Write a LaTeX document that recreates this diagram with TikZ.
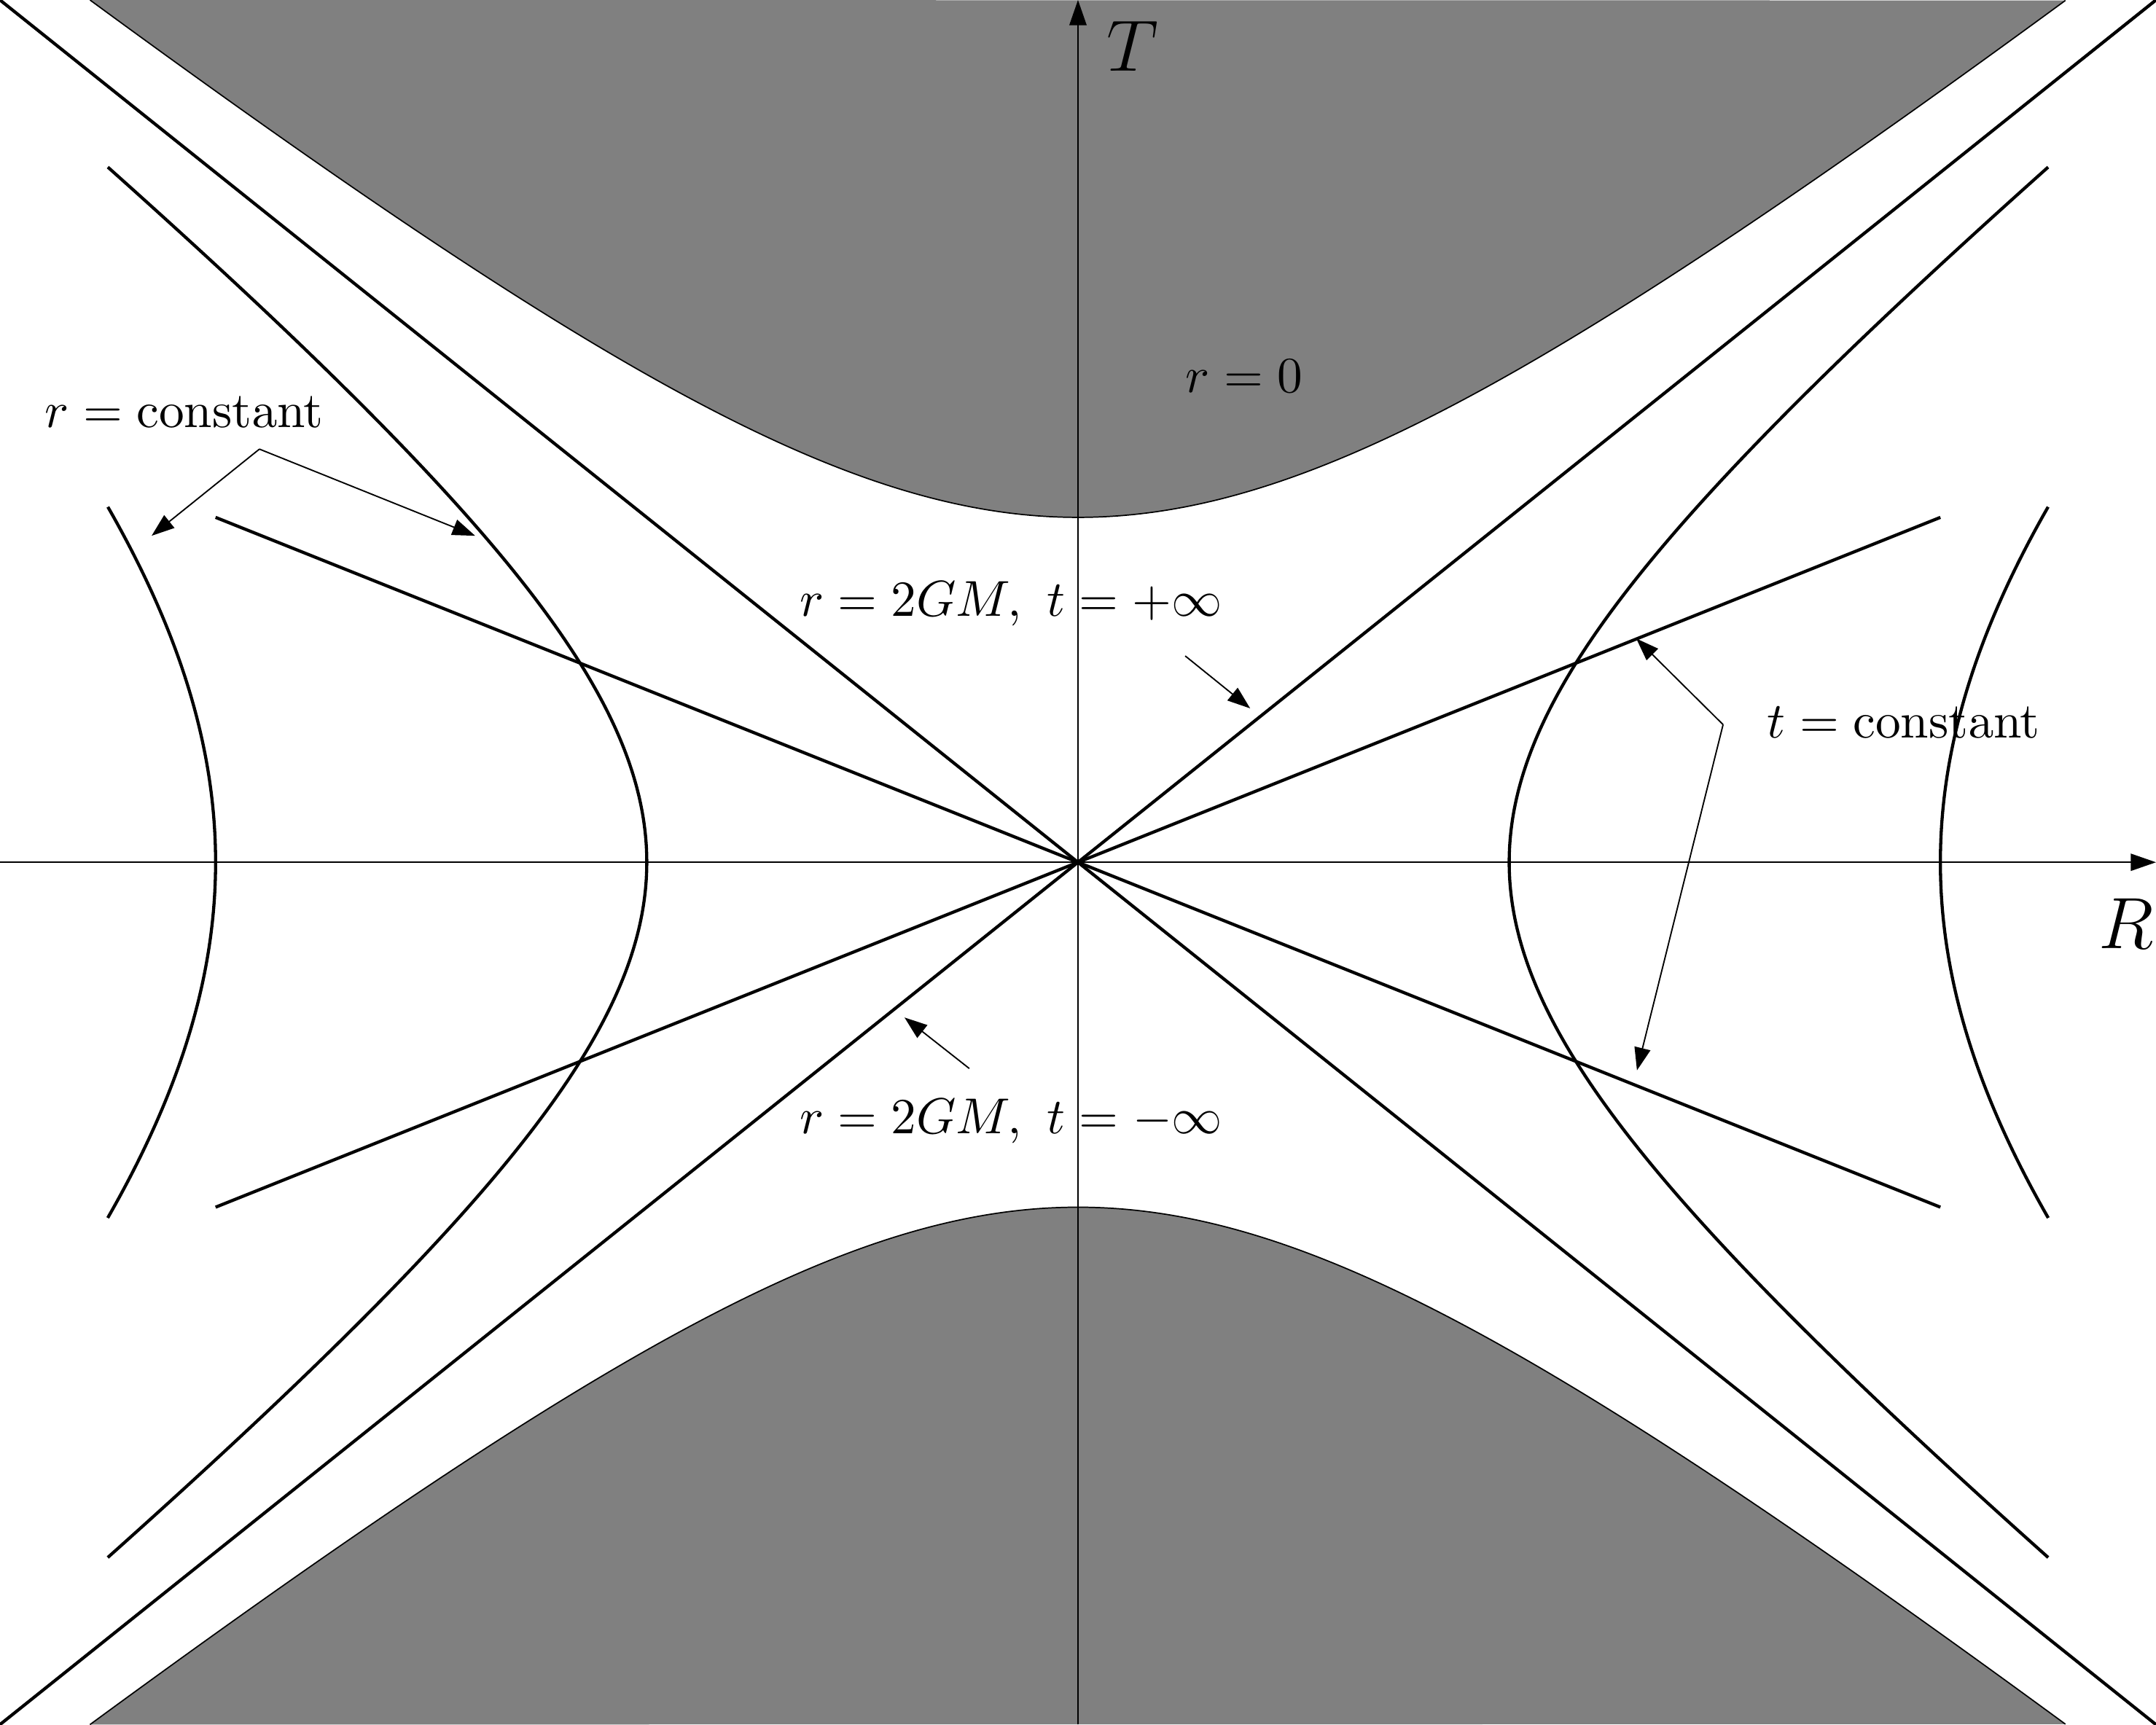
\documentclass[tikz,border=0pt]{standalone}
\usetikzlibrary{arrows.meta}
\begin{document}
\begin{tikzpicture}[x=3cm,y=2.4cm,
  curve/.style={line width=0.62pt, line join=round},
  thinline/.style={line width=0.25pt},
  axisarrow/.style={line width=0.25pt, -{Triangle[length=5pt,width=3.4pt]}},
  labarrow/.style={line width=0.27pt, -{Triangle[length=4.5pt,width=3.2pt]}},
  lab/.style={anchor=base west, inner sep=0pt, outer sep=0pt}]
\useasboundingbox (-2.5,-2.5) rectangle (2.5,2.5);
% singularities r = 0
\fill[gray] plot[domain=-2.2913:2.2913, samples=120, smooth] (\x,{sqrt(1+\x*\x)}) -- cycle;
\fill[gray] plot[domain=-2.2913:2.2913, samples=120, smooth] (\x,{-sqrt(1+\x*\x)}) -- cycle;
\draw[thinline] plot[domain=-2.2913:2.2913, samples=120, smooth] (\x,{sqrt(1+\x*\x)});
\draw[thinline] plot[domain=-2.2913:2.2913, samples=120, smooth] (\x,{-sqrt(1+\x*\x)});
% axes
\coordinate (Rl) at (-2.5,0);
\coordinate (Rr) at (2.5,0);
\coordinate (Tb) at (0,-2.5);
\coordinate (Tt) at (0,2.5);
\draw[axisarrow] (Rl) -- (Rr);
\draw[axisarrow] (Tb) -- (Tt);
% horizons
\coordinate (H1a) at (-2.5,-2.5);
\coordinate (H1b) at (2.5,2.5);
\coordinate (H2a) at (-2.5,2.5);
\coordinate (H2b) at (2.5,-2.5);
\draw[curve] (H1a) -- (H1b);
\draw[curve] (H2a) -- (H2b);
% t = constant lines
\coordinate (L1a) at (-2,-1);
\coordinate (L1b) at (2,1);
\coordinate (L2a) at (-2,1);
\coordinate (L2b) at (2,-1);
\draw[curve] (L1a) -- (L1b);
\draw[curve] (L2a) -- (L2b);
% r = constant hyperbolas
\draw[curve] plot[domain=-2.0156:2.0156, samples=120, smooth] ({sqrt(1+\x*\x)},\x);
\draw[curve] plot[domain=-2.0156:2.0156, samples=120, smooth] ({-sqrt(1+\x*\x)},\x);
\draw[curve] plot[domain=-1.031:1.031, samples=80, smooth] ({sqrt(4+\x*\x)},\x);
\draw[curve] plot[domain=-1.031:1.031, samples=80, smooth] ({-sqrt(4+\x*\x)},\x);
% labels
\node[lab] (rconst) at (-7.186cm,3.027cm) {$r=\mathrm{constant}$};
\node[lab] (rzero) at (0.750cm,3.271cm) {$r=0$};
\node[lab] (hplus) at (-1.937cm,1.714cm) {$r=2GM,\ t=+\infty$};
\node[lab] (hminus) at (-1.937cm,-1.886cm) {$r=2GM,\ t=-\infty$};
\node[lab] (tconst) at (4.797cm,0.867cm) {$t=\mathrm{constant}$};
\node[lab, font=\Large] (Tlab) at (0.20cm,5.507cm) {$T$};
\node[lab, font=\Large] (Rlab) at (7.10cm,-0.598cm) {$R$};
% label arrows
\coordinate (rcs) at (-5.695cm,2.875cm);
\coordinate (rct1) at (-6.445cm,2.272cm);
\coordinate (rct2) at (-4.194cm,2.272cm);
\draw[labarrow] (rcs) -- (rct1);
\draw[labarrow] (rcs) -- (rct2);
\coordinate (hps) at (0.746cm,1.436cm);
\coordinate (hpt) at (1.198cm,1.071cm);
\draw[labarrow] (hps) -- (hpt);
\coordinate (hms) at (-0.756cm,-1.435cm);
\coordinate (hmt) at (-1.207cm,-1.080cm);
\draw[labarrow] (hms) -- (hmt);
\coordinate (tcs) at (4.488cm,0.958cm);
\coordinate (tct1) at (3.884cm,1.557cm);
\coordinate (tct2) at (3.889cm,-1.448cm);
\draw[labarrow] (tcs) -- (tct1);
\draw[labarrow] (tcs) -- (tct2);
\end{tikzpicture}
\end{document}
